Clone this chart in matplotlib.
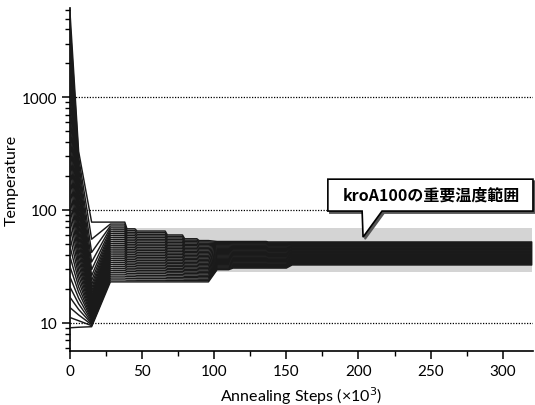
import matplotlib
matplotlib.use("Agg")
import matplotlib.pyplot as plt
from matplotlib.patches import Polygon
from matplotlib.ticker import NullFormatter
import matplotlib.transforms as mtransforms
import numpy as np

plt.rcParams['font.family'] = ['Lato', 'DejaVu Sans']

# axis ticks
step_ticks = [0, 50, 100, 150, 200, 250, 300]
step_minor = [25, 75, 125, 175, 225, 275]
temp_ticks = [10, 100, 1000]

# replica temperatures at step 0, at 6k steps and at the dip (15k steps)
t_start = [9.0, 11.1, 13.6, 16.8, 20.7, 25.5, 31.4, 38.6, 47.6, 58.6, 72.1, 88.8,
           109, 135, 166, 204, 251, 309, 381, 469, 578, 711, 876, 1078, 1328,
           1635, 2013, 2479, 3052, 3758, 4627, 5700]
t_knee = [9.1, 10.4, 11.7, 13.1, 14.7, 16.5, 18.6, 20.8, 23.4, 26.2, 29.4, 33.0,
          37.0, 41.5, 46.6, 52.3, 58.7, 65.8, 73.9, 82.9, 93.0, 104, 117, 131,
          147, 165, 186, 208, 234, 262, 294, 330]
t_dip = [9.2, 9.4, 9.6, 9.8, 10.0, 10.3, 10.6, 10.9, 11.2, 11.5, 11.9, 12.3,
         12.7, 13.1, 13.6, 14.1, 14.6, 15.2, 15.8, 16.5, 17.2, 18.0, 19.0, 20.2,
         21.7, 23.6, 26.0, 29.5, 34.5, 42.0, 55.0, 78.0]
knee_x = 6
dip_x = 15

# temperature band of the replicas after the dip (steps x1000)
band_x = [28, 38, 45, 66, 78, 88, 96, 110, 136, 150]
band_ramp = [0, 1.5, 1.5, 1.5, 1.5, 1.5, 6, 3, 1.5, 4]
band_lo = [23, 23, 23, 23, 23, 23, 29.5, 30.5, 30.5, 32.5]
band_hi = [78, 68, 65, 60, 55.5, 53.5, 52.5, 52.5, 52, 52]
x_end = 320

# important temperature range (gray)
range_x = [30, 320]
range_lo = 28
range_hi = 69.5
callout_text = 'kroA100の重要温度範囲'

fig = plt.figure(figsize=(5.35, 4.06), dpi=100)
ax = fig.add_axes([0.1308, 0.133, 0.8654, 0.8448])

n = len(t_start)
for i in range(n):
    f = i / (n - 1)
    lvl = [lo * (hi / lo) ** f for lo, hi in zip(band_lo, band_hi)]
    xs = [0, knee_x, dip_x, band_x[0]]
    ys = [t_start[i], t_knee[i], t_dip[i], lvl[0]]
    for k in range(1, len(band_x)):
        xs += [band_x[k], band_x[k] + band_ramp[k]]
        ys += [lvl[k - 1], lvl[k]]
    xs.append(x_end)
    ys.append(lvl[-1])
    ax.plot(xs, ys, color='#1a1a1a', lw=1.05, zorder=3)

ax.fill_between(range_x, range_lo, range_hi, color='#d4d4d4', lw=0, zorder=1)
for t in temp_ticks:
    ax.axhline(t, color='k', ls=(0, (1, 1.2)), lw=0.9, zorder=2)

ax.set_yscale('log')
ax.set_ylim(5.6, 6200)
ax.set_xlim(0, 321)
ax.set_xticks(step_ticks)
ax.set_xticks(step_minor, minor=True)
ax.set_yticks(temp_ticks, labels=[str(t) for t in temp_ticks])
ax.yaxis.set_minor_formatter(NullFormatter())
ax.tick_params(which='major', length=6, width=1.1, labelsize=11, pad=3)
ax.tick_params(which='minor', length=3.5, width=1.0)
for s in ['top', 'right']:
    ax.spines[s].set_visible(False)
for s in ['left', 'bottom']:
    ax.spines[s].set_linewidth(1.2)

ax.set_xlabel('Annealing Steps (×10$^3$)', fontsize=11.5, labelpad=5)
ax.set_ylabel('Temperature', fontsize=11.5, labelpad=2)

# callout box
x0, x1, yb, yt = 0.557, 1.0, 0.408, 0.501
bl, br, tip = 0.631, 0.674, (0.633, 0.332)
pts = [(x0, yb), (bl, yb), tip, (br, yb), (x1, yb), (x1, yt), (x0, yt)]
shadow_tr = mtransforms.offset_copy(ax.transAxes, fig=fig, x=2, y=-2, units='dots')
ax.add_patch(Polygon(pts, closed=True, transform=shadow_tr, facecolor='#555555',
                     edgecolor='#555555', lw=1.2, clip_on=False, zorder=5))
ax.add_patch(Polygon(pts, closed=True, transform=ax.transAxes, facecolor='white',
                     edgecolor='black', lw=1.2, clip_on=False, zorder=6,
                     joinstyle='miter'))
ax.text(0.78, 0.455, callout_text, transform=ax.transAxes, ha='center', va='center',
        fontsize=11.5, fontweight='bold', family=['Noto Sans CJK JP', 'DejaVu Sans'],
        zorder=7)

fig.savefig('out.png', dpi=100)
